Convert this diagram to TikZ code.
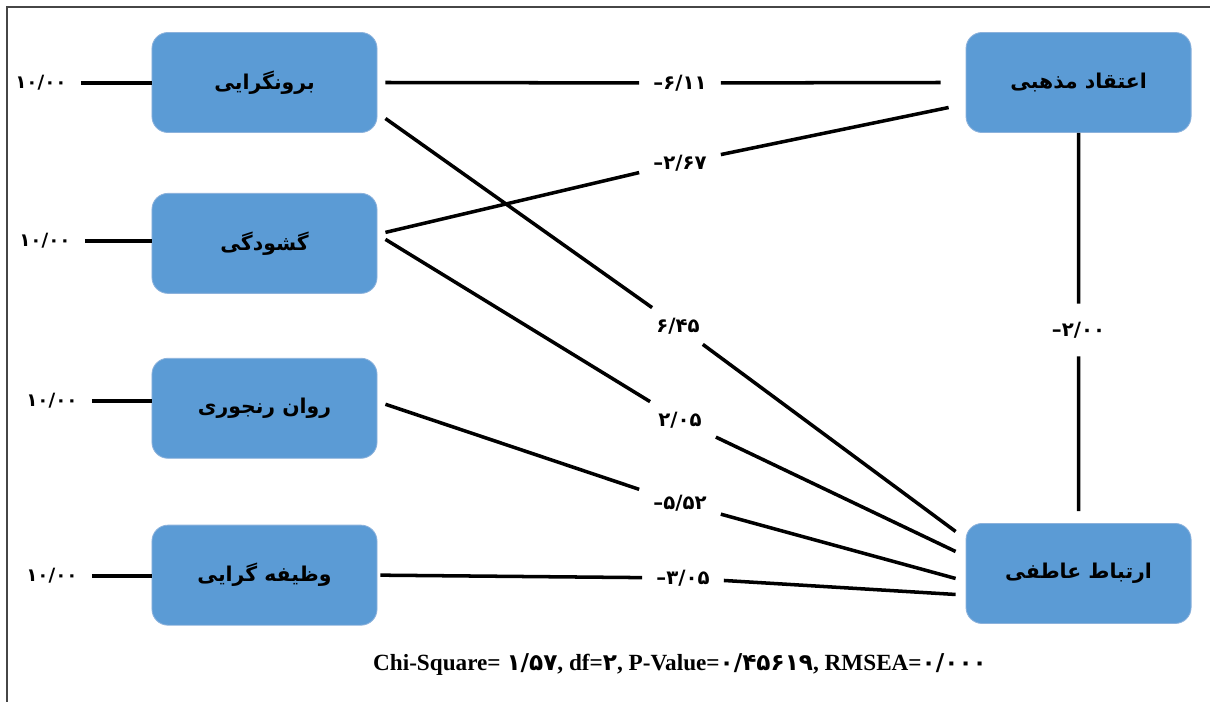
\documentclass[tikz,border=0pt]{standalone}
\usepackage{fontspec}
\setmainfont{Liberation Serif}
\newfontfamily\fa[Script=Arabic]{DejaVu Sans}
\TeXXeTstate=1
\usetikzlibrary{positioning}
\definecolor{boxblue}{RGB}{91,155,213}
\definecolor{boxedge}{RGB}{140,178,220}
\definecolor{framegray}{RGB}{70,70,70}

\begin{document}
\begin{tikzpicture}[x=0.025cm,y=-0.025cm,
  var/.style={draw=boxedge,line width=0.6pt,fill=boxblue,rounded corners=0.4cm,
    minimum width=5.625cm,minimum height=2.5cm,inner sep=0pt,
    font=\fa\bfseries\fontsize{14.5}{16}\selectfont},
  err/.style={inner xsep=0.35cm,inner ysep=2pt,font=\fa\bfseries\fontsize{13}{15}\selectfont},
  coef/.style={inner xsep=0.35cm,inner ysep=0.25cm,font=\fa\bfseries\fontsize{14}{16}\selectfont},
  link/.style={line width=2.5pt}]
\useasboundingbox (0,0) rectangle (1210,702);
\draw[framegray,line width=1.4pt] (1210,7) -- (7,7) -- (7,702);

\node[var](bor) at (264.5,82.5){\beginR برونگرایی\endR};
\node[var, below=1.5cm of bor](gsh){\beginR گشودگی\endR};
\node[var, below=1.6cm of gsh](rav){\beginR روان رنجوری\endR};
\node[var, below=1.65cm of rav](vaz){\beginR وظیفه گرایی\endR};
\node[var, right=14.7cm of bor](etq){\beginR اعتقاد مذهبی\endR};
\node[var, below=9.75cm of etq](erb){\beginR ارتباط عاطفی\endR};

\node[err](ebor) at (41,83){۱۰/۰۰};
\node[err](egsh) at (45,241){۱۰/۰۰};
\node[err](erav) at (52,401){۱۰/۰۰};
\node[err](evaz) at (52,576){۱۰/۰۰};
\draw[link] (ebor) -- (ebor -| bor.west);
\draw[link] (egsh) -- (egsh -| gsh.west);
\draw[link] (erav) -- (erav -| rav.west);
\draw[link] (evaz) -- (evaz -| vaz.west);

\node[coef](c1) at (680,83){\mbox{–}۶/۱۱};
\node[coef](c2) at (678,326){۶/۴۵};
\node[coef](c3) at (680,163){\mbox{–}۲/۶۷};
\node[coef](c4) at (680,420){۲/۰۵};
\node[coef](c5) at (680,503){\mbox{–}۵/۵۲};
\node[coef](c6) at (683,578){\mbox{–}۳/۰۵};
\node[coef, inner ysep=0.45cm](c7) at (1078.5,330){\mbox{–}۲/۰۰};

\draw[link] ([shift={(8,0)}]bor.east) -- (c1);
\draw[link] (c1) -- ([shift={(-25,0)}]etq.west);
\draw[link] ([shift={(8,36)}]bor.east) -- (c2);
\draw[link] (c2) -- ([shift={(-10,-42)}]erb.west);
\draw[link] ([shift={(8,-11)}]gsh.east) -- (c3);
\draw[link] (c3) -- ([shift={(-17,25)}]etq.west);
\draw[link] ([shift={(8,-4)}]gsh.east) -- (c4);
\draw[link] (c4) -- ([shift={(-10,-22)}]erb.west);
\draw[link] ([shift={(8,-4)}]rav.east) -- (c5);
\draw[link] (c5) -- ([shift={(-10,5)}]erb.west);
\draw[link] ([shift={(3,0)}]vaz.east) -- (c6);
\draw[link] (c6) -- ([shift={(-10,21)}]erb.west);
\draw[link] (etq.south) -- (c7);
\draw[link] (c7) -- ([shift={(0,-12)}]erb.north);

\node[font=\bfseries\fontsize{16.5}{18}\selectfont](stats) at (680,665)
  {Chi-Square= {\fa ۱/۵۷}, df={\fa ۲}, P-Value={\fa ۰/۴۵۶۱۹}, RMSEA={\fa ۰/۰۰۰}};
\end{tikzpicture}
\end{document}
